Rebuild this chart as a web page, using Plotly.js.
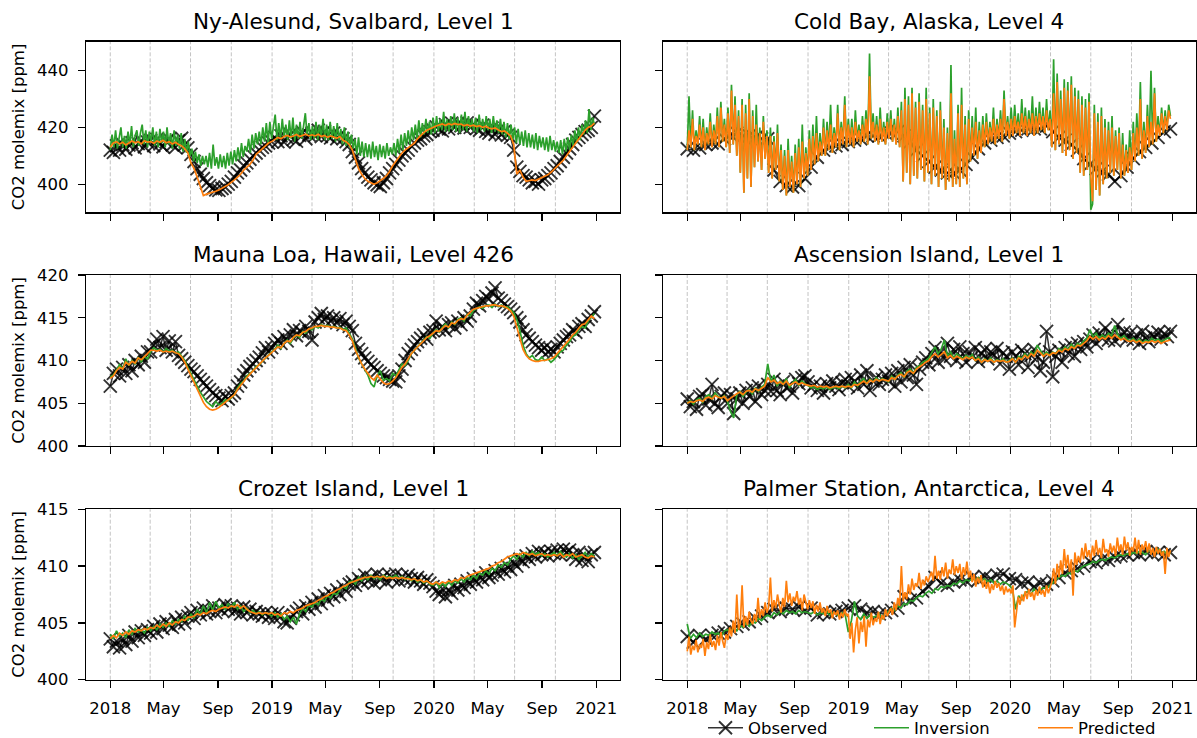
<!DOCTYPE html>
<html>
<head>
<meta charset="utf-8">
<script src="https://cdn.plot.ly/plotly-3.0.1.min.js"></script>
<style>
  html, body { margin: 0; padding: 0; background: #ffffff; }
  #chart { width: 1197px; height: 738px; }
</style>
</head>
<body>
<div id="chart"></div>
<script>
// ---------------------------------------------------------------------------
// Panel titles and axis labelling
// ---------------------------------------------------------------------------
const stationTitles = [
  'Ny-Alesund, Svalbard, Level 1',
  'Cold Bay, Alaska, Level 4',
  'Mauna Loa, Hawaii, Level 426',
  'Ascension Island, Level 1',
  'Crozet Island, Level 1',
  'Palmer Station, Antarctica, Level 4'
];
const yAxisLabel = 'CO2 molemix [ppm]';
const seriesNames = ['Observed', 'Inversion', 'Predicted'];

const monthTicks = ['2018-01-01', '2018-05-01', '2018-09-01', '2019-01-01', '2019-05-01',
  '2019-09-01', '2020-01-01', '2020-05-01', '2020-09-01', '2021-01-01'];
const monthTickLabels = ['2018', 'May', 'Sep', '2019', 'May', 'Sep', '2020', 'May', 'Sep', '2021'];

// quarter boundaries marked with dashed guide lines
const quarterStarts = ['2018-01-01', '2018-04-01', '2018-07-01', '2018-10-01',
  '2019-01-01', '2019-04-01', '2019-07-01', '2019-10-01',
  '2020-01-01', '2020-04-01', '2020-07-01', '2020-10-01'];

const rowRanges = [[390.1, 450.2], [400, 420], [400, 415]];
const rowTicks = [[400, 420, 440], [400, 405, 410, 415, 420], [400, 405, 410, 415]];
const timeRange = ['2017-11-07 06:00', '2021-02-23 18:00'];

// ---------------------------------------------------------------------------
// Ny-Alesund (observed & predicted every 7 days, inversion every 4 days)
// ---------------------------------------------------------------------------
const nyObserved = [
  412.0, 411.2, 413.5, 412.0, 414.0, 412.3, 413.8, 414.6, 412.8, 414.3, 415.2, 413.2, 414.8,
  415.4, 413.6, 415.8, 414.2, 413.2, 415.0, 415.8, 413.8, 413.0, 415.3, 416.2, 414.0, 412.8,
  410.5, 408.0, 405.5, 403.5, 402.0, 400.5, 399.5, 398.5, 398.0, 397.8, 398.5, 399.0, 400.0,
  401.0, 402.5, 404.0, 405.0, 406.5, 407.5, 408.8, 410.0, 411.0, 412.0, 413.0, 413.5, 414.5,
  415.0, 416.5, 415.0, 417.0, 414.8, 416.3, 417.5, 415.8, 415.2, 417.2, 418.2, 416.0, 417.4,
  418.0, 417.2, 419.0, 416.8, 418.5, 417.0, 416.3, 418.0, 416.0, 417.4, 416.0, 415.0, 414.0,
  411.5, 409.5, 407.5, 405.5, 404.0, 402.5, 401.5, 400.5, 399.8, 399.2, 400.5, 402.0, 404.0,
  405.5, 407.0, 408.5, 410.0, 411.0, 412.0, 413.5, 414.5, 415.5, 416.0, 417.0, 417.5, 418.5,
  419.0, 420.2, 419.4, 418.8, 421.0, 419.5, 421.5, 420.0, 421.4, 420.6, 419.8, 421.6, 420.0,
  421.0, 419.6, 419.0, 420.8, 418.6, 418.0, 419.8, 417.6, 419.0, 417.4, 418.6, 417.2, 416.5,
  412.0, 406.0, 404.5, 403.0, 402.5, 401.5, 400.5, 401.0, 400.0, 401.5, 402.0, 403.0, 404.0,
  405.5, 406.5, 408.0, 409.5, 411.0, 412.5, 414.0, 415.5, 416.5, 417.5, 418.5, 419.0, 420.0, 424.0
];
const nyInversion = [
  412, 417.5, 413, 419, 412.5, 416, 420, 413,
  417, 412.5, 418.5, 414, 420.5, 413, 417,
  419, 413.5, 418, 421, 414, 419, 413, 418.5,
  415, 420, 413.5, 418.5, 413, 419.5, 414.5,
  418.5, 413, 420, 414, 418, 412.5, 419, 413.5,
  417.5, 412.5, 418, 411.5, 416, 411, 415, 410,
  412.5, 408, 411.5, 407.5, 410.5, 406.5, 410, 407,
  410, 406, 411, 405.5, 414, 406.5, 409.5, 405.5,
  410.5, 406, 410, 405.5, 411, 406.5, 411.5,
  407, 412, 408, 413, 408.5, 414.5, 409.5, 413.5,
  411.5, 416, 411, 417.5, 412.5, 418, 414,
  418.5, 414, 420, 415, 421.5, 414.5, 422, 416,
  420, 424.5, 415.5, 421.5, 416, 423, 416.5,
  421, 415.5, 422.5, 416, 423.5, 415, 421, 416,
  422, 416, 421, 425, 417, 421.5, 415.5, 420.5,
  416, 422, 415.5, 421, 416.5, 423, 415.5,
  421, 415.5, 422, 416, 420.5, 415, 421.5, 415.5,
  419.5, 414, 420, 413.5, 418.5, 413, 417.5, 412.5,
  416, 410.5, 416.5, 410, 415, 409.5, 414.5,
  409.5, 414, 409, 415, 409.5, 413.5, 408.5, 414,
  409.5, 413.5, 409, 414.5, 410, 413, 410.5,
  414.5, 410, 416, 411, 417.5, 412, 418, 413.5,
  419, 414, 420, 415.5, 421, 416, 422.5, 416.5,
  421.5, 417.5, 423, 418, 422, 417.5, 423.5,
  418, 424, 418.5, 423, 419, 425.5, 418.5, 423,
  418.5, 424, 419, 425, 418.5, 423.5, 418,
  424.5, 419, 425.5, 418.5, 424, 419.5, 423, 418.5,
  423.5, 418, 424.5, 419, 423, 418.5, 424, 419,
  423, 418, 424, 418.5, 422.5, 418, 423,
  417.5, 422, 416.5, 421.5, 416, 421, 415.5, 420,
  414.5, 419.5, 414, 418.5, 413.5, 419, 413, 418,
  413, 417.5, 412.5, 418, 412, 417, 413, 416.5,
  412, 416.5, 411.5, 417, 412, 415.5, 411.5,
  415, 411, 415.5, 410.5, 416, 411.5, 416.5, 412,
  417.5, 413.5, 419, 414.5, 420, 415.5, 421,
  417.5, 422.5, 418, 426.5, 419, 423.5, 421
];
const nyPredicted = [
  413.0, 414.5, 415.0, 414.2, 414.8, 413.8, 414.5, 415.2, 414.6, 415.0, 414.2, 415.3, 414.8,
  415.0, 414.4, 415.2, 414.8, 415.5, 414.6, 415.0, 414.2, 414.8, 414.0, 413.5, 412.5, 411.0,
  407.5, 405.5, 402.5, 399.0, 396.0, 396.5, 396.8, 397.2, 397.5, 398.0, 398.5, 399.2, 399.8,
  400.5, 401.5, 402.5, 403.5, 405.0, 406.0, 407.0, 408.5, 410.5, 411.5, 412.5, 413.5, 414.5,
  415.0, 415.8, 416.5, 416.0, 416.8, 417.2, 416.6, 417.0, 417.5, 416.8, 417.2, 417.6, 417.0,
  417.4, 417.0, 417.6, 416.8, 417.2, 416.5, 417.0, 416.6, 416.2, 416.8, 415.5, 415.0, 414.0,
  412.0, 409.0, 405.5, 403.5, 402.0, 401.0, 400.5, 400.0, 400.5, 401.2, 402.0, 403.0, 404.5,
  406.5, 408.0, 409.5, 411.0, 412.0, 412.8, 413.5, 414.5, 416.0, 417.3, 418.2, 419.0, 419.6,
  420.0, 420.5, 420.8, 421.2, 420.7, 421.3, 420.9, 421.4, 421.0, 421.2, 420.6, 421.0, 420.5,
  420.8, 420.3, 420.6, 420.0, 420.4, 419.8, 419.5, 419.8, 419.0, 418.5, 418.8, 417.8, 417.0,
  414.0, 403.5, 405.0, 402.5, 401.0, 401.2, 401.5, 401.3, 401.8, 402.2, 402.8, 403.3, 404.2,
  405.2, 406.5, 407.5, 408.5, 410.0, 411.5, 413.0, 414.5, 416.0, 417.5, 419.0, 420.0, 420.5, 421.5
];

// ---------------------------------------------------------------------------
// Cold Bay (observed every 14 days, inversion & predicted every 4 days)
// ---------------------------------------------------------------------------
const cbObserved = [
  412.5, 412.0, 412.8, 414.0, 414.5, 414.2, 416.0, 417.5, 418.0, 417.0, 417.0, 416.5, 416.0,
  416.0, 405.0, 401.0, 399.5, 399.0, 399.5, 402.0, 406.0, 409.5, 412.0, 413.0, 413.5, 414.0,
  415.0, 415.5, 416.0, 417.0, 417.0, 417.0, 418.0, 418.0, 418.5, 417.0, 415.0, 412.0, 410.0,
  408.0, 406.0, 405.0, 404.0, 404.0, 405.0, 407.0, 409.5, 412.5, 414.5, 415.5, 416.5, 417.0,
  418.0, 418.5, 419.0, 419.5, 419.5, 419.5, 420.5, 418.5, 416.5, 415.5, 414.0, 412.0, 409.0,
  407.0, 405.5, 404.5, 403.5, 401.0, 403.0, 406.0, 409.0, 411.5, 413.0, 414.5, 416.5, 418.5, 419.5
];
const cbInversion = [
  412, 431, 413, 426, 412, 419, 414, 424,
  413, 423, 412, 420, 414, 425, 413,
  421, 414, 427, 413, 429, 415, 423, 413,
  427, 411, 435, 414, 431, 410, 426,
  404, 430, 397, 428, 402, 432, 399, 426,
  406, 428, 408, 420, 405, 424, 409, 419,
  404, 420, 402, 417, 405, 421, 401, 414,
  398, 412, 396, 416, 399, 410, 397, 414,
  400, 416, 399, 421, 402, 413, 403,
  419, 405, 421, 407, 424, 408, 418, 410,
  423, 410, 422, 412, 428, 411, 420,
  413, 428, 412, 422, 414, 431, 413, 423,
  414, 423, 413, 426, 415, 421, 414,
  424, 415, 426, 414, 446, 416, 425, 415,
  424, 414, 427, 415, 422, 414, 425, 416,
  426, 415, 423, 414, 427, 413, 429,
  401, 434, 404, 431, 400, 434, 403, 429,
  402, 432, 405, 428, 401, 434, 404, 427,
  400, 430, 403, 426, 399, 429, 402,
  423, 398, 420, 401, 442, 399, 419, 400,
  428, 399, 434, 402, 424, 400, 426,
  408, 424, 410, 427, 409, 422, 411, 424,
  413, 425, 414, 422, 415, 427, 414, 423,
  416, 426, 415, 433, 417, 424, 416,
  427, 417, 428, 418, 425, 417, 430, 418,
  427, 417, 426, 418, 431, 417, 427,
  418, 429, 419, 427, 418, 430, 419, 426,
  413, 444, 412, 439, 414, 433, 411, 437,
  410, 436, 412, 438, 409, 434, 411,
  433, 404, 431, 403, 430, 405, 432, 391,
  393, 428, 398, 425, 396, 427, 400, 423,
  402, 422, 404, 424, 403, 419, 405, 420,
  402, 418, 403, 414, 404, 419, 405,
  422, 408, 425, 410, 436, 409, 422, 411,
  428, 413, 440, 414, 434, 415, 424,
  417, 427, 418, 426, 419, 428, 424
];
const cbPredicted = [
  412, 419, 413, 423, 412, 417, 414, 421,
  413, 420, 412, 418, 414, 422, 413,
  419, 414, 424, 413, 427, 415, 421, 413,
  425, 411, 433, 414, 428, 410, 424,
  404, 428, 397, 425, 402, 430, 399, 424,
  406, 421, 408, 418, 405, 422, 409, 417,
  404, 417, 402, 415, 405, 418, 401, 412,
  398, 410, 396, 412, 399, 408, 397, 411,
  400, 413, 399, 415, 402, 411, 403,
  416, 405, 417, 407, 418, 408, 415, 410,
  420, 410, 419, 412, 421, 411, 418,
  413, 425, 412, 420, 414, 428, 413, 421,
  414, 420, 413, 422, 415, 419, 414,
  421, 415, 423, 414, 438, 416, 422, 415,
  421, 414, 423, 415, 420, 414, 422, 416,
  423, 415, 421, 414, 424, 413, 426,
  401, 430, 404, 428, 400, 432, 403, 427,
  402, 429, 405, 426, 401, 430, 404, 425,
  400, 427, 403, 424, 399, 426, 402,
  420, 398, 418, 401, 432, 399, 416, 400,
  425, 399, 428, 402, 421, 400, 423,
  408, 420, 410, 422, 409, 419, 411, 421,
  413, 422, 414, 420, 415, 423, 414, 421,
  416, 423, 415, 430, 417, 422, 416,
  423, 417, 424, 418, 422, 417, 425, 418,
  424, 417, 423, 418, 425, 417, 424,
  418, 425, 419, 424, 418, 426, 419, 423,
  413, 432, 412, 436, 414, 430, 411, 434,
  410, 433, 412, 435, 409, 431, 411,
  430, 404, 428, 403, 427, 405, 429, 403,
  394, 425, 398, 422, 396, 424, 400, 420,
  402, 419, 404, 420, 403, 417, 405, 418,
  402, 414, 403, 412, 404, 413, 405,
  418, 408, 420, 410, 430, 409, 419, 411,
  424, 413, 422, 414, 432, 415, 421,
  417, 425, 418, 424, 419, 426, 423
];

// ---------------------------------------------------------------------------
// Mauna Loa (all every 7 days)
// ---------------------------------------------------------------------------
const mlObserved = [
  407.0, 408.5, 409.0, 408.2, 409.2, 408.5, 409.5, 408.8, 410.0, 409.5, 410.5, 409.8, 411.0,
  411.0, 411.8, 412.5, 411.5, 412.8, 411.2, 412.3, 411.0, 412.2, 410.6, 410.2, 409.8, 409.4,
  409.0, 408.7, 408.2, 407.8, 407.4, 407.0, 406.6, 406.2, 405.9, 405.6, 405.3, 405.8, 405.5,
  405.9, 406.2, 407.0, 407.5, 408.3, 408.8, 409.3, 409.6, 410.0, 410.4, 410.9, 411.5, 411.0,
  411.5, 412.0, 412.4, 412.0, 412.8, 412.3, 413.0, 413.6, 412.9, 413.5, 413.2, 414.0, 413.4,
  412.4, 414.5, 415.0, 415.5, 414.8, 415.2, 414.6, 415.0, 414.4, 414.9, 414.2, 414.6, 414.0,
  413.5, 412.0, 411.3, 410.8, 410.3, 409.9, 409.5, 409.2, 408.8, 408.5, 408.2, 408.0, 407.8,
  407.6, 407.5, 408.2, 409.0, 410.0, 410.8, 411.3, 411.8, 412.2, 412.6, 413.0, 412.5, 413.3,
  413.5, 414.6, 413.6, 414.0, 413.5, 414.2, 414.4, 413.8, 414.6, 414.2, 415.0, 414.6, 415.2,
  416.0, 416.7, 416.4, 417.0, 417.5, 417.2, 417.9, 418.5, 417.3, 417.0, 416.6, 416.3, 416.0,
  415.6, 415.0, 414.5, 413.6, 413.0, 412.6, 412.2, 411.8, 411.5, 411.2, 411.5, 411.0, 411.3,
  411.0, 411.6, 412.0, 412.4, 412.8, 413.0, 413.6, 413.3, 414.0, 414.3, 414.0, 414.8, 415.2, 415.7
];
const mlInversion = [
  408.1, 408.3, 408.9, 409.5, 409.0, 410.2, 409.4, 410.0, 409.6, 410.4, 409.8, 410.5, 410.2,
  411.0, 411.5, 411.2, 411.3, 411.0, 411.4, 411.1, 411.2, 410.9, 411.0, 410.5, 410.0, 409.2,
  408.4, 407.7, 407.0, 406.3, 405.7, 405.2, 404.9, 404.6, 405.2, 404.8, 405.0, 405.4, 405.3,
  405.7, 406.0, 406.8, 407.3, 407.6, 408.2, 408.5, 408.8, 409.3, 409.5, 409.9, 410.3, 410.6,
  411.0, 411.3, 411.8, 411.4, 412.0, 412.4, 412.0, 412.6, 413.0, 412.7, 413.4, 413.2, 413.7,
  413.6, 414.0, 413.8, 414.2, 414.0, 414.1, 413.9, 414.0, 413.8, 413.9, 413.6, 413.8, 413.2,
  412.5, 411.5, 410.3, 409.6, 408.9, 408.3, 407.3, 406.9, 408.2, 408.8, 407.7, 407.9, 407.6,
  408.5, 408.2, 409.0, 409.6, 409.4, 410.0, 410.8, 411.2, 411.6, 412.0, 412.3, 412.8, 412.6,
  413.2, 413.6, 413.3, 413.9, 414.3, 413.8, 414.5, 414.2, 414.8, 415.0, 414.6, 415.4, 415.2,
  415.8, 416.0, 416.3, 416.1, 416.4, 416.5, 416.2, 416.6, 416.3, 416.5, 416.2, 416.3, 416.0,
  415.6, 414.8, 413.5, 411.8, 410.8, 410.3, 410.6, 410.1, 410.0, 410.4, 410.0, 410.2, 409.8,
  410.1, 410.6, 411.0, 411.2, 411.8, 412.2, 412.8, 413.0, 413.6, 414.0, 413.8, 414.6, 415.0, 415.5
];
const mlPredicted = [
  407.9, 408.2, 408.8, 409.2, 409.0, 409.8, 409.5, 409.9, 409.7, 410.3, 410.1, 410.4, 410.8,
  411.2, 411.2, 411.1, 411.2, 411.0, 411.1, 411.0, 411.1, 410.9, 410.8, 410.4, 409.8, 409.0,
  408.2, 407.4, 406.6, 405.8, 405.1, 404.6, 404.3, 404.2, 404.3, 404.5, 404.8, 405.1, 405.3,
  405.6, 406.0, 406.6, 407.1, 407.5, 408.0, 408.4, 408.8, 409.2, 409.5, 409.9, 410.3, 410.6,
  410.9, 411.2, 411.6, 411.5, 412.0, 412.3, 412.2, 412.7, 413.0, 412.9, 413.3, 413.4, 413.7,
  413.8, 414.0, 414.0, 414.1, 414.0, 414.0, 413.9, 413.9, 413.8, 413.8, 413.6, 413.5, 413.0,
  412.3, 411.2, 410.3, 409.6, 409.0, 408.5, 408.0, 407.7, 408.3, 407.8, 407.4, 407.2, 407.3,
  407.6, 408.0, 408.6, 409.2, 409.6, 410.2, 410.8, 411.2, 411.6, 412.0, 412.4, 412.7, 412.9,
  413.2, 413.5, 413.4, 413.8, 414.1, 413.9, 414.4, 414.3, 414.7, 414.9, 414.8, 415.3, 415.6,
  416.0, 416.1, 416.2, 416.3, 416.4, 416.4, 416.5, 416.5, 416.4, 416.4, 416.3, 416.1, 415.8,
  415.2, 414.0, 412.5, 411.3, 410.6, 410.2, 410.0, 409.9, 409.9, 410.0, 410.0, 410.1, 410.2,
  410.4, 410.8, 411.2, 411.6, 412.0, 412.5, 413.0, 413.3, 413.8, 414.2, 414.3, 414.8, 415.2, 414.9
];

// ---------------------------------------------------------------------------
// Ascension Island (all every 7 days)
// ---------------------------------------------------------------------------
const asObserved = [
  405.5, 404.6, 405.2, 404.3, 405.8, 406.0, 404.8, 405.5, 407.2, 405.0, 404.5, 405.8, 406.2,
  405.0, 406.0, 403.8, 405.5, 406.2, 405.0, 406.5, 405.8, 406.8, 405.2, 407.0, 406.0, 406.5,
  407.2, 406.4, 407.8, 406.5, 406.0, 407.5, 406.8, 407.0, 406.2, 407.8, 407.3, 408.0, 408.2,
  407.5, 406.8, 407.2, 406.5, 407.0, 406.2, 407.3, 406.8, 407.6, 407.0, 406.6, 407.4, 407.8,
  407.0, 408.0, 407.5, 406.8, 408.3, 407.2, 408.8, 406.5, 407.6, 408.0, 407.2, 407.8, 408.3,
  407.6, 408.5, 407.0, 408.8, 407.5, 409.2, 408.0, 409.5, 408.3, 407.2, 409.0, 409.8, 410.3,
  409.5, 410.8, 411.5, 409.8, 411.0, 410.2, 412.0, 410.5, 411.3, 410.0, 411.6, 410.8, 409.8,
  411.0, 410.4, 411.5, 409.9, 410.8, 411.3, 410.2, 411.0, 410.6, 411.4, 409.6, 410.9, 410.5,
  409.0, 411.0, 410.5, 409.5, 411.2, 410.8, 409.2, 410.6, 411.3, 410.4, 408.8, 409.8, 413.4,
  411.0, 408.1, 410.5, 411.2, 409.8, 411.5, 410.8, 411.8, 410.5, 412.0, 411.3, 412.2, 411.6,
  412.5, 413.0, 412.0, 413.2, 412.6, 413.8, 412.4, 413.1, 412.3, 414.2, 412.8, 413.3, 412.5,
  413.2, 412.4, 413.0, 412.0, 413.4, 412.6, 412.2, 413.0, 412.7, 413.3, 412.5, 413.1, 412.8, 413.4
];
const asInversion = [
  405.0, 405.3, 404.9, 405.4, 405.6, 405.1, 405.8, 406.0, 405.5, 406.2, 405.8, 405.6, 405.9,
  405.2, 404.0, 403.3, 406.0, 406.4, 405.8, 406.3, 406.6, 406.1, 406.8, 406.4, 406.9, 407.2,
  409.6, 407.5, 408.3, 407.0, 407.6, 407.2, 407.9, 406.8, 407.4, 407.8, 407.1, 407.6, 407.3,
  407.1, 406.8, 406.9, 406.6, 406.8, 406.7, 406.9, 406.6, 406.8, 406.9, 406.7, 407.0, 406.8,
  407.2, 406.8, 407.5, 407.0, 407.6, 407.9, 407.3, 407.8, 407.5, 408.0, 407.6, 407.9, 407.7,
  407.5, 408.2, 407.8, 408.3, 408.6, 408.0, 408.8, 409.0, 408.5, 409.2, 409.4, 409.8, 410.0,
  410.3, 411.0, 411.6, 410.8, 411.3, 412.4, 410.5, 411.0, 410.3, 410.8, 410.5, 410.2, 410.6,
  410.3, 410.7, 410.0, 410.4, 409.8, 410.2, 409.9, 410.3, 409.8, 410.1, 409.9, 410.2, 409.8,
  410.0, 410.3, 409.8, 410.5, 410.2, 410.8, 410.4, 411.0, 410.6, 411.8, 411.2, 410.6, 411.0,
  410.6, 411.0, 410.8, 411.4, 411.1, 411.6, 411.3, 411.9, 411.5, 412.0, 411.8, 412.3, 412.6,
  413.6, 412.8, 413.2, 412.6, 413.0, 412.7, 413.2, 412.9, 414.1, 413.0, 412.6, 412.9, 412.5,
  412.3, 412.6, 412.2, 412.5, 412.1, 412.4, 412.2, 412.6, 412.3, 412.5, 412.2, 412.4, 412.6, 412.7
];
const asPredicted = [
  405.0, 405.2, 405.1, 405.3, 405.4, 405.2, 405.6, 405.7, 405.5, 405.9, 405.7, 405.6, 405.8,
  405.3, 405.6, 405.9, 406.1, 406.3, 406.0, 406.4, 406.5, 406.3, 406.7, 406.5, 406.8, 407.0,
  408.0, 407.5, 407.7, 407.3, 407.5, 407.2, 407.6, 407.1, 407.3, 407.5, 407.2, 407.4, 407.2,
  407.1, 407.0, 407.1, 406.9, 407.0, 406.9, 407.0, 406.8, 406.9, 407.0, 406.9, 407.0, 406.9,
  407.0, 406.9, 407.2, 407.1, 407.4, 407.6, 407.3, 407.7, 407.5, 407.8, 407.6, 407.8, 407.7,
  407.6, 408.0, 407.8, 408.2, 408.4, 408.1, 408.6, 408.8, 408.5, 409.0, 409.2, 409.5, 409.8,
  410.0, 410.5, 410.8, 410.4, 410.7, 411.0, 410.3, 410.6, 410.2, 410.5, 410.3, 410.1, 410.4,
  410.2, 410.4, 410.0, 410.2, 409.8, 410.1, 409.9, 410.1, 409.8, 410.0, 409.9, 410.0, 409.8,
  409.9, 410.2, 409.8, 410.3, 410.1, 410.6, 410.3, 410.8, 410.5, 411.2, 410.9, 410.5, 410.8,
  410.6, 410.9, 410.8, 411.2, 411.0, 411.4, 411.2, 411.6, 411.4, 411.8, 411.7, 412.0, 412.3,
  412.8, 412.5, 412.8, 412.4, 412.7, 412.5, 412.9, 412.6, 413.0, 412.7, 412.4, 412.6, 412.3,
  412.2, 412.4, 412.1, 412.3, 412.0, 412.2, 412.1, 412.3, 412.1, 412.3, 412.0, 412.2, 412.3, 412.4
];

// ---------------------------------------------------------------------------
// Crozet Island (all every 7 days)
// ---------------------------------------------------------------------------
const czObserved = [
  403.6, 402.9, 403.4, 402.8, 403.6, 403.1, 403.9, 403.4, 404.2, 403.7, 404.3, 403.9, 404.4,
  404.1, 404.7, 404.2, 404.9, 404.5, 405.1, 404.8, 404.6, 405.3, 404.9, 405.5, 405.0, 405.6,
  405.9, 405.4, 406.1, 405.7, 406.3, 405.8, 406.0, 406.5, 405.9, 406.3, 406.1, 406.6, 406.2,
  406.5, 406.0, 406.3, 405.8, 406.4, 405.9, 406.2, 405.7, 406.0, 405.8, 405.6, 405.9, 405.5,
  405.8, 405.4, 405.9, 405.6, 405.1, 405.0, 405.4, 405.7, 406.0, 406.3, 405.8, 406.5, 406.2,
  406.8, 406.4, 407.1, 406.7, 407.4, 407.0, 407.6, 407.3, 407.9, 407.5, 408.2, 407.8, 408.4,
  408.6, 408.3, 408.9, 408.6, 409.2, 408.7, 409.0, 408.5, 409.3, 408.8, 409.1, 408.6, 409.2,
  408.9, 409.3, 408.7, 409.1, 408.8, 409.2, 408.9, 408.6, 409.0, 408.7, 408.4, 408.8, 408.5,
  408.2, 407.8, 407.5, 408.0, 407.3, 407.9, 407.6, 408.3, 407.9, 408.4, 408.1, 408.7, 408.4,
  408.9, 408.6, 409.1, 408.8, 409.4, 409.0, 409.2, 409.6, 409.3, 409.8, 409.5, 410.0, 409.7,
  410.3, 410.0, 410.6, 410.4, 410.9, 410.6, 411.1, 410.8, 411.3, 411.0, 411.2, 410.9, 411.3,
  411.1, 411.4, 411.0, 411.5, 411.2, 411.4, 411.0, 410.6, 411.2, 410.5, 410.9, 410.4, 411.0, 411.2
];
const czInversion = [
  404.0, 403.6, 404.3, 403.8, 404.1, 403.7, 404.4, 404.0, 404.5, 404.2, 404.4, 404.1, 404.6,
  404.3, 404.7, 404.4, 404.9, 404.6, 405.0, 404.7, 405.2, 404.9, 405.3, 405.1, 405.6, 405.2,
  405.8, 405.4, 406.2, 405.7, 406.5, 405.9, 406.8, 406.1, 406.9, 406.3, 406.6, 406.2, 406.7,
  406.4, 406.8, 406.2, 406.5, 406.0, 406.3, 405.9, 406.1, 405.8, 406.0, 405.7, 405.9, 405.8,
  405.6, 405.9, 405.5, 405.8, 405.3, 405.6, 405.1, 405.5, 404.9, 405.8, 406.3, 406.0, 406.6,
  406.4, 406.8, 406.6, 407.1, 406.9, 407.4, 407.2, 407.6, 407.5, 407.9, 408.2, 408.0, 408.6,
  408.7, 408.4, 409.0, 408.7, 409.1, 408.8, 409.2, 408.9, 409.1, 408.8, 409.2, 409.0, 409.1,
  409.0, 409.2, 408.9, 409.1, 408.8, 409.0, 408.7, 408.9, 408.6, 408.8, 408.5, 408.7, 408.4,
  408.3, 408.6, 408.1, 408.5, 408.2, 408.6, 408.3, 408.7, 408.5, 408.9, 408.6, 409.0, 408.8,
  409.2, 408.9, 409.4, 409.2, 409.6, 409.3, 409.8, 409.6, 410.1, 409.9, 410.3, 410.1, 410.6,
  410.9, 410.6, 411.1, 410.8, 411.2, 410.9, 411.3, 411.0, 411.2, 410.9, 411.1, 410.8, 411.0,
  411.2, 410.9, 411.3, 411.0, 410.8, 411.1, 410.7, 411.0, 410.6, 410.9, 411.2, 410.8, 411.1, 410.9
];
const czPredicted = [
  403.6, 403.9, 403.7, 404.1, 403.9, 404.2, 404.0, 404.3, 404.2, 404.4, 404.3, 404.5, 404.4,
  404.6, 404.5, 404.8, 404.6, 404.9, 404.7, 405.0, 404.8, 405.1, 405.0, 405.3, 405.2, 405.5,
  405.5, 405.6, 405.8, 405.7, 405.9, 405.8, 406.0, 406.1, 406.0, 406.2, 406.3, 406.4, 406.3,
  406.5, 406.4, 406.6, 406.3, 406.5, 406.2, 406.0, 405.9, 405.8, 405.9, 405.8, 405.9, 405.8,
  405.9, 405.7, 405.8, 405.6, 405.9, 405.8, 406.0, 405.9, 406.1, 406.2, 406.3, 406.5, 406.6,
  406.7, 406.8, 407.0, 407.1, 407.3, 407.4, 407.6, 407.7, 407.9, 408.0, 408.2, 408.3, 408.5,
  408.6, 408.7, 408.8, 408.9, 409.0, 409.0, 409.1, 409.0, 409.1, 409.0, 409.1, 408.9, 409.0,
  408.9, 409.0, 408.9, 409.0, 408.9, 408.9, 408.8, 408.9, 408.7, 408.8, 408.6, 408.7, 408.5,
  408.4, 408.6, 408.4, 408.6, 408.5, 408.7, 408.6, 408.8, 408.7, 409.0, 408.9, 409.1, 409.2,
  409.3, 409.4, 409.5, 409.6, 409.7, 409.8, 410.0, 410.1, 410.3, 410.4, 410.6, 410.8, 410.9,
  411.0, 411.1, 411.0, 411.2, 411.1, 411.0, 411.1, 410.9, 411.0, 411.1, 410.9, 411.0, 410.9,
  411.0, 410.9, 411.1, 410.8, 411.0, 410.9, 411.1, 410.8, 410.9, 411.0, 410.8, 410.7, 410.9, 410.8
];

// ---------------------------------------------------------------------------
// Palmer Station (observed every 14 days, inversion 7 days, predicted 4 days)
// ---------------------------------------------------------------------------
const pmObserved = [
  403.8, 403.3, 403.9, 403.6, 403.9, 404.1, 404.2, 404.5, 404.7, 404.9, 405.1, 405.4, 405.6,
  405.9, 406.2, 406.0, 406.3, 406.2, 406.4, 406.1, 406.3, 405.7, 405.9, 405.8, 406.0, 406.1,
  406.3, 406.5, 406.2, 405.9, 406.0, 405.8, 405.9, 406.1, 406.3, 407.3, 407.0, 407.2, 407.8,
  408.2, 409.0, 408.5, 408.3, 408.6, 408.8, 408.7, 409.0, 408.8, 409.1, 408.9, 409.2, 409.3,
  408.9, 408.8, 408.5, 408.6, 408.2, 408.5, 408.4, 408.7, 409.0, 409.4, 409.6, 409.8, 410.0,
  410.4, 410.3, 410.6, 410.5, 410.8, 410.9, 411.0, 411.2, 411.0, 411.3, 411.1, 411.2, 411.0, 411.2
];
const pmInversion = [
  404.9, 403.6, 404.0, 403.7, 404.1, 403.8, 404.0, 403.9, 404.2, 404.0, 404.1, 403.8, 404.3,
  404.4, 404.2, 404.6, 404.3, 404.8, 404.6, 405.0, 404.7, 405.1, 405.0, 405.4, 405.2, 405.5,
  405.7, 405.5, 405.9, 405.7, 406.0, 405.8, 406.1, 405.9, 406.0, 405.8, 406.1, 405.9, 406.0,
  405.9, 405.8, 406.0, 405.7, 405.9, 405.8, 406.0, 405.7, 405.9, 405.8, 405.6, 405.9, 405.7,
  404.2, 405.2, 406.9, 405.6, 405.3, 405.8, 405.4, 405.7, 405.5, 405.6, 405.8, 405.4, 405.9,
  406.0, 406.3, 406.1, 406.5, 406.3, 406.7, 406.6, 407.0, 406.9, 407.2, 407.4, 407.3, 407.6,
  407.8, 407.6, 408.0, 407.9, 408.2, 408.1, 408.3, 408.2, 408.5, 408.4, 408.7, 408.5, 408.8,
  408.7, 408.9, 408.8, 409.0, 408.7, 408.9, 408.6, 408.8, 408.5, 408.7, 408.4, 408.6, 408.5,
  408.3, 408.0, 406.2, 407.4, 407.0, 407.6, 407.8, 407.5, 408.0, 407.7, 407.9, 408.1, 408.0,
  408.3, 408.5, 408.8, 409.0, 409.2, 409.1, 409.4, 409.3, 409.6, 409.5, 409.8, 410.0, 410.1,
  410.2, 410.4, 410.3, 410.5, 410.6, 410.5, 410.7, 410.8, 410.7, 410.9, 411.0, 410.9, 411.1,
  411.0, 411.2, 411.1, 411.3, 411.2, 411.0, 411.4, 411.3, 411.1, 411.5, 411.2, 411.3, 411.0, 411.2
];
const pmPredicted = [
  402.5, 403.8, 402.2, 403.0, 402.6, 403.5, 402.4, 403.1,
  402.8, 403.6, 402.1, 403.3, 402.7, 404.0, 402.9,
  403.4, 402.6, 403.9, 403.0, 404.2, 403.4, 402.8, 404.0,
  403.5, 404.6, 403.8, 405.2, 404.1, 407.5, 404.4,
  405.0, 408.3, 404.6, 405.6, 404.8, 406.0, 405.2, 404.9,
  405.8, 405.1, 407.2, 405.4, 406.2, 405.6, 406.8, 405.9,
  406.4, 409.0, 406.0, 407.0, 406.3, 407.5, 406.6, 405.9,
  407.2, 406.4, 408.7, 406.8, 407.6, 406.5, 407.3, 406.9,
  407.8, 406.6, 407.2, 406.1, 407.5, 406.7, 406.2,
  407.0, 406.3, 406.9, 405.8, 406.6, 406.0, 406.8, 405.9,
  406.3, 405.6, 406.5, 405.9, 406.2, 405.4, 406.0,
  405.7, 406.1, 405.3, 405.9, 405.5, 406.2, 405.6, 405.8,
  403.6, 405.0, 402.4, 404.4, 405.5, 403.2, 405.1,
  404.2, 405.6, 402.9, 405.3, 404.6, 405.9, 404.8, 405.4,
  405.1, 406.0, 404.9, 405.7, 405.3, 406.2, 405.6, 406.0,
  406.3, 405.7, 406.8, 406.1, 407.2, 406.5, 410.0,
  406.9, 407.7, 407.1, 408.4, 407.5, 408.9, 407.9, 408.5,
  408.2, 409.4, 408.0, 408.8, 408.3, 409.1, 408.6, 409.0,
  409.5, 408.7, 410.9, 408.9, 409.6, 408.8, 409.9,
  409.1, 410.3, 408.9, 409.7, 409.3, 410.6, 409.2, 410.0,
  409.4, 410.2, 408.8, 409.9, 409.2, 410.4, 409.0,
  409.6, 408.6, 409.3, 408.2, 409.0, 408.5, 409.2, 408.1,
  408.8, 408.0, 408.6, 407.6, 408.4, 407.9, 408.7, 408.1,
  408.5, 407.8, 408.3, 407.5, 408.2, 407.7, 408.0,
  407.6, 408.3, 404.6, 406.0, 407.3, 406.6, 407.5, 406.9,
  407.8, 407.1, 408.0, 407.3, 407.7, 407.0, 407.9,
  407.4, 408.2, 407.5, 407.9, 407.3, 408.3, 407.6, 408.1,
  408.6, 409.8, 408.4, 410.2, 409.0, 410.5, 409.3, 411.5,
  409.8, 411.0, 409.5, 410.6, 407.4, 411.2, 410.1,
  410.9, 410.3, 411.6, 410.6, 412.0, 410.8, 411.4, 410.5,
  411.8, 410.9, 412.3, 411.0, 411.6, 410.7, 412.4, 411.2,
  411.5, 410.8, 412.0, 411.2, 411.8, 410.9, 412.5, 411.3,
  411.9, 411.0, 412.6, 411.4, 412.1, 410.9, 411.7,
  411.3, 412.5, 411.1, 412.3, 411.0, 411.9, 411.4, 412.2,
  411.2, 412.0, 411.0, 411.6, 410.8, 411.7, 411.1,
  411.5, 410.9, 411.3, 409.3, 411.6, 410.8, 411.4
];

// ---------------------------------------------------------------------------
// Sampling interval of each record, in days from 2018-01-01
// ---------------------------------------------------------------------------
const panelSeries = [
  { obs: nyObserved, obsStep: 7,  inv: nyInversion, invStep: 4, pred: nyPredicted, predStep: 7 },
  { obs: cbObserved, obsStep: 14, inv: cbInversion, invStep: 4, pred: cbPredicted, predStep: 4 },
  { obs: mlObserved, obsStep: 7,  inv: mlInversion, invStep: 7, pred: mlPredicted, predStep: 7 },
  { obs: asObserved, obsStep: 7,  inv: asInversion, invStep: 7, pred: asPredicted, predStep: 7 },
  { obs: czObserved, obsStep: 7,  inv: czInversion, invStep: 7, pred: czPredicted, predStep: 7 },
  { obs: pmObserved, obsStep: 14, inv: pmInversion, invStep: 7, pred: pmPredicted, predStep: 4 }
];

function stepDates(stepDays, count) {
  const t0 = Date.UTC(2018, 0, 1);
  const out = [];
  for (let i = 0; i < count; i++) {
    out.push(new Date(t0 + i * stepDays * 86400000).toISOString().slice(0, 10));
  }
  return out;
}

// ---------------------------------------------------------------------------
// Figure geometry (pixels of a 1197 x 738 canvas)
// ---------------------------------------------------------------------------
const W = 1197, H = 738;
const colPx = [[86, 620], [663, 1196]];
const rowPx = [[41.7, 212.3], [275, 446], [509.3, 679.7]];
const legendLeftPx = [703, 869, 1033];

const FONT = 'DejaVu Sans, Verdana, sans-serif';
const AX_COLOR = '#000000';
const OBS_COLOR = 'rgba(0,0,0,0.8)';
const INV_COLOR = '#2ca02c';
const PRED_COLOR = '#ff7f0e';
const legendIds = ['legend', 'legend2', 'legend3'];

const traces = [];
const layout = {
  width: W, height: H,
  margin: { l: 0, r: 0, t: 0, b: 0, pad: 0, autoexpand: false },
  paper_bgcolor: '#ffffff',
  plot_bgcolor: '#ffffff',
  font: { family: FONT, size: 16.5, color: '#000000' },
  showlegend: true,
  annotations: [],
  shapes: []
};
// one legend box per series so each entry sits where it belongs under the right column
legendIds.forEach((id, i) => {
  layout[id] = {
    orientation: 'h',
    x: legendLeftPx[i] / W, xanchor: 'left',
    y: 1 - 728 / H, yanchor: 'middle',
    font: { family: FONT, size: 16.5, color: '#000000' },
    bgcolor: 'rgba(0,0,0,0)', borderwidth: 0,
    itemwidth: 35
  };
});

for (let k = 0; k < 6; k++) {
  const row = Math.floor(k / 2), col = k % 2;
  const n = k + 1;
  const xName = n === 1 ? 'x' : 'x' + n;
  const yName = n === 1 ? 'y' : 'y' + n;
  const xKey = n === 1 ? 'xaxis' : 'xaxis' + n;
  const yKey = n === 1 ? 'yaxis' : 'yaxis' + n;
  const xd = [colPx[col][0] / W, colPx[col][1] / W];
  const yd = [1 - rowPx[row][1] / H, 1 - rowPx[row][0] / H];
  const s = panelSeries[k];

  traces.push({
    type: 'scatter', mode: 'lines+markers', name: seriesNames[0],
    x: stepDates(s.obsStep, s.obs.length), y: s.obs,
    xaxis: xName, yaxis: yName, legend: legendIds[0], showlegend: k === 0,
    line: { color: OBS_COLOR, width: 1.5 },
    marker: { symbol: 'x-thin', size: 13, color: OBS_COLOR, line: { color: OBS_COLOR, width: 1.9 } }
  });
  traces.push({
    type: 'scatter', mode: 'lines', name: seriesNames[1],
    x: stepDates(s.invStep, s.inv.length), y: s.inv,
    xaxis: xName, yaxis: yName, legend: legendIds[1], showlegend: k === 0,
    line: { color: INV_COLOR, width: 1.7 }
  });
  traces.push({
    type: 'scatter', mode: 'lines', name: seriesNames[2],
    x: stepDates(s.predStep, s.pred.length), y: s.pred,
    xaxis: xName, yaxis: yName, legend: legendIds[2], showlegend: k === 0,
    line: { color: PRED_COLOR, width: 1.7 }
  });

  layout[xKey] = {
    type: 'date', domain: xd, anchor: yName, range: timeRange,
    tickmode: 'array', tickvals: monthTicks, ticktext: monthTickLabels,
    showticklabels: row === 2,
    ticks: 'outside', ticklen: 7, tickwidth: 1.3, tickcolor: AX_COLOR,
    ticklabelstandoff: 6,
    tickfont: { family: FONT, size: 16.5, color: '#000000' },
    showline: true, linecolor: AX_COLOR, linewidth: 1.3, mirror: true,
    showgrid: false, zeroline: false, automargin: false, fixedrange: true
  };
  layout[yKey] = {
    domain: yd, anchor: xName, range: rowRanges[row],
    tickmode: 'array', tickvals: rowTicks[row],
    showticklabels: col === 0,
    ticks: 'outside', ticklen: 7, tickwidth: 1.3, tickcolor: AX_COLOR,
    ticklabelstandoff: 6,
    tickfont: { family: FONT, size: 16.5, color: '#000000' },
    showline: true, linecolor: AX_COLOR, linewidth: 1.3, mirror: true,
    showgrid: false, zeroline: false, automargin: false, fixedrange: true
  };
  if (col === 0) {
    layout[yKey].title = { text: yAxisLabel, font: { family: FONT, size: 16.5, color: '#000000' }, standoff: 8 };
  }

  // dashed quarter guides
  quarterStarts.forEach(q => {
    layout.shapes.push({
      type: 'line', layer: 'below',
      xref: xName, yref: yName + ' domain',
      x0: q, x1: q, y0: 0, y1: 1,
      line: { color: '#c4c4c4', width: 1, dash: '4px,2px' }
    });
  });

  layout.annotations.push({
    text: stationTitles[k], showarrow: false,
    xref: 'paper', yref: 'paper',
    x: (xd[0] + xd[1]) / 2, y: yd[1],
    xanchor: 'center', yanchor: 'bottom', yshift: 6,
    font: { family: FONT, size: 21.5, color: '#000000' }
  });
}

Plotly.newPlot('chart', traces, layout, { staticPlot: true, displayModeBar: false });
</script>
</body>
</html>
